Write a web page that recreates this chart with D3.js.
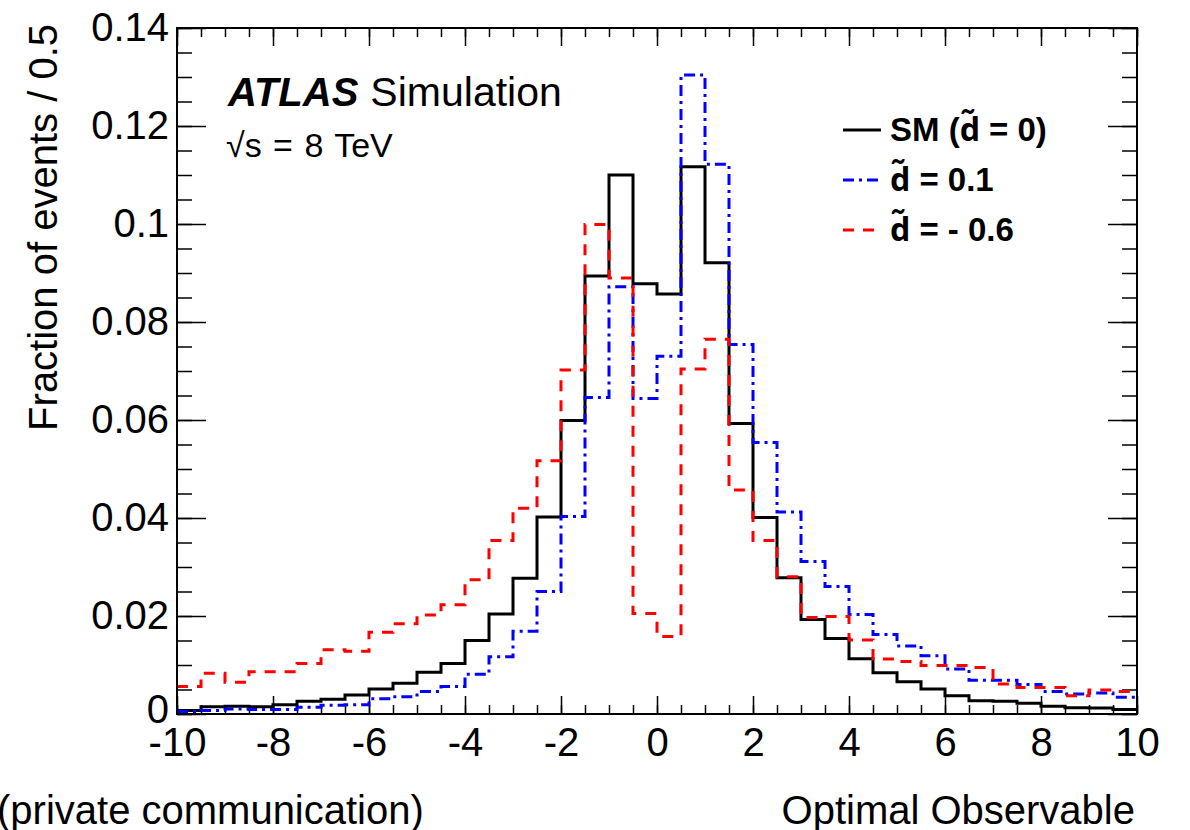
<!DOCTYPE html>
<html>
<head>
<meta charset="utf-8">
<script src="https://cdn.jsdelivr.net/npm/d3@7"></script>
<style>
  body { margin: 0; background: #fff; }
  svg { display: block; font-family: "Liberation Sans", Arial, Helvetica, sans-serif; }
  .axis text { font-size: 40px; fill: #000; }
  .axis line { stroke: #000; stroke-width: 1.5; }
  .dtilde { font-family: "Noto Sans", sans-serif; }
</style>
</head>
<body>
<svg id="chart" width="1190" height="830"></svg>
<script>
// bin edges: -10 .. 10 in steps of 0.5 (40 bins)
const binLow = d3.range(40).map(i => -10 + i * 0.5)

// SM (d~ = 0)
const smValues = [
	0.0007, 0.0015, 0.0016, 0.0015, 0.0019, 0.0026, 0.0030, 0.0039, 0.0051, 0.0063,
	0.0085, 0.0103, 0.0150, 0.0204, 0.0277, 0.0402, 0.0599, 0.0894, 0.1100, 0.0878,
	0.0857, 0.1117, 0.0921, 0.0593, 0.0401, 0.0278, 0.0193, 0.0154, 0.0113, 0.0084,
	0.0066, 0.0051, 0.0037, 0.0027, 0.0026, 0.0022, 0.0016, 0.0013, 0.0012, 0.0009,
]

// d~ = 0.1
const d01Values = [
	0.0005, 0.0007, 0.0010, 0.0009, 0.0009, 0.0014, 0.0018, 0.0019, 0.0031, 0.0035,
	0.0046, 0.0056, 0.0081, 0.0117, 0.0169, 0.0250, 0.0403, 0.0646, 0.0872, 0.0644,
	0.0730, 0.1304, 0.1122, 0.0754, 0.0554, 0.0412, 0.0311, 0.0260, 0.0203, 0.0162,
	0.0139, 0.0119, 0.0092, 0.0069, 0.0069, 0.0060, 0.0046, 0.0041, 0.0043, 0.0034,
]

// d~ = -0.6
const dm06Values = [
	0.0056, 0.0083, 0.0065, 0.0086, 0.0086, 0.0103, 0.0131, 0.0128, 0.0167, 0.0184,
	0.0202, 0.0223, 0.0274, 0.0354, 0.0420, 0.0517, 0.0702, 0.0999, 0.0890, 0.0205,
	0.0158, 0.0704, 0.0765, 0.0457, 0.0354, 0.0280, 0.0197, 0.0199, 0.0151, 0.0112,
	0.0107, 0.0099, 0.0099, 0.0095, 0.0061, 0.0054, 0.0054, 0.0037, 0.0049, 0.0046,
]

const xTicks = [-10, -8, -6, -4, -2, 0, 2, 4, 6, 8, 10]
const yTicks = [0, 0.02, 0.04, 0.06, 0.08, 0.1, 0.12, 0.14]

// legend pieces: text before d~, text after d~
const series = [
	{ pre: 'SM (', post: ' = 0)', values: smValues, color: '#000', dash: null },
	{ pre: '', post: ' = 0.1', values: d01Values, color: '#0000ff', dash: '11,5,3,5' },
	{ pre: '', post: ' = - 0.6', values: dm06Values, color: '#ff0000', dash: '11,9' },
]

const svg = d3.select('#chart')

// plot frame
const frame = { left: 177, right: 1137, top: 28, bottom: 714 }

const x = d3.scaleLinear().domain([-10, 10]).range([frame.left, frame.right])
const y = d3.scaleLinear().domain([0, 0.14]).range([frame.bottom, frame.top])

const xMinor = d3.range(-10, 10.01, 0.5)
const yMinor = d3.range(0, 0.1401, 0.005)

// bottom axis, ticks pointing inward
svg.append('g')
	.attr('class', 'axis')
	.attr('transform', `translate(0, ${frame.bottom})`)
	.call(d3.axisBottom(x).tickValues(xMinor).tickSize(-9).tickFormat(''))
	.call(g => g.select('.domain').remove())

svg.append('g')
	.attr('class', 'axis')
	.attr('transform', `translate(0, ${frame.bottom})`)
	.call(d3.axisBottom(x).tickValues(xTicks).tickSize(-18).tickPadding(9).tickFormat(d => String(d)))
	.call(g => g.select('.domain').remove())
	.call(g => g.selectAll('text').attr('dy', '0.82em'))

// top axis
svg.append('g')
	.attr('class', 'axis')
	.attr('transform', `translate(0, ${frame.top})`)
	.call(d3.axisTop(x).tickValues(xMinor).tickSize(-9).tickFormat(''))
	.call(g => g.select('.domain').remove())

svg.append('g')
	.attr('class', 'axis')
	.attr('transform', `translate(0, ${frame.top})`)
	.call(d3.axisTop(x).tickValues(xTicks).tickSize(-18).tickFormat(''))
	.call(g => g.select('.domain').remove())

// left axis
svg.append('g')
	.attr('class', 'axis')
	.attr('transform', `translate(${frame.left}, 0)`)
	.call(d3.axisLeft(y).tickValues(yMinor).tickSize(-15).tickFormat(''))
	.call(g => g.select('.domain').remove())

svg.append('g')
	.attr('class', 'axis')
	.attr('transform', `translate(${frame.left}, 0)`)
	.call(d3.axisLeft(y).tickValues(yTicks).tickSize(-29).tickPadding(8).tickFormat(d => d === 0 ? '0' : String(+d.toFixed(2))))
	.call(g => g.select('.domain').remove())
	.call(g => g.selectAll('text').filter(d => d === 0).attr('dy', '0.2em'))

// right axis
svg.append('g')
	.attr('class', 'axis')
	.attr('transform', `translate(${frame.right}, 0)`)
	.call(d3.axisRight(y).tickValues(yMinor).tickSize(-15).tickFormat(''))
	.call(g => g.select('.domain').remove())

svg.append('g')
	.attr('class', 'axis')
	.attr('transform', `translate(${frame.right}, 0)`)
	.call(d3.axisRight(y).tickValues(yTicks).tickSize(-29).tickFormat(''))
	.call(g => g.select('.domain').remove())

// histograms as step lines
const line = d3.line()
	.x(d => x(d[0]))
	.y(d => y(d[1]))
	.curve(d3.curveStepAfter)

series.forEach(s => {
	const pts = binLow.map((b, i) => [b, s.values[i]])
	pts.push([10, s.values[s.values.length - 1]])
	svg.append('path')
		.datum(pts)
		.attr('d', line)
		.attr('fill', 'none')
		.attr('stroke', s.color)
		.attr('stroke-width', 3)
		.attr('stroke-dasharray', s.dash)
})

// frame on top
svg.append('rect')
	.attr('x', frame.left)
	.attr('y', frame.top)
	.attr('width', frame.right - frame.left)
	.attr('height', frame.bottom - frame.top)
	.attr('fill', 'none')
	.attr('stroke', '#000')
	.attr('stroke-width', 2)

// axis titles
svg.append('text')
	.attr('transform', 'translate(57, 24) rotate(-90)')
	.attr('text-anchor', 'end')
	.style('font-size', '40px')
	.text('Fraction of events / 0.5')

svg.append('text')
	.attr('x', 1135)
	.attr('y', 824)
	.attr('text-anchor', 'end')
	.style('font-size', '40px')
	.text('Optimal Observable')

svg.append('text')
	.attr('x', -3)
	.attr('y', 824)
	.style('font-size', '40px')
	.text('(private communication)')

// ATLAS label
const atlas = svg.append('text')
	.attr('x', 228)
	.attr('y', 106)
	.style('font-size', '40px')
atlas.append('tspan')
	.style('font-weight', 'bold')
	.style('font-style', 'italic')
	.text('ATLAS')
atlas.append('tspan')
	.attr('dx', 12)
	.style('font-size', '41px')
	.text('Simulation')

svg.append('text')
	.attr('x', 226)
	.attr('y', 157)
	.style('font-size', '34px')
	.style('word-spacing', '2px')
	.text('\u221As = 8 TeV')

// legend
const legend = svg.append('g')
	.attr('transform', 'translate(843, 130)')

series.forEach((s, i) => {
	const row = legend.append('g')
		.attr('transform', `translate(0, ${i * 50})`)

	row.append('line')
		.attr('x1', 0)
		.attr('x2', 38)
		.attr('stroke', s.color)
		.attr('stroke-width', 3)
		.attr('stroke-dasharray', s.dash)

	const t = row.append('text')
		.attr('x', 47)
		.attr('y', 11)
		.style('font-size', '33px')
		.style('font-weight', 'bold')

	if (s.pre) t.append('tspan').text(s.pre)
	t.append('tspan')
		.attr('class', 'dtilde')
		.style('font-size', '32px')
		.text('d\u0303')
	t.append('tspan').text(s.post)
})
</script>
</body>
</html>
